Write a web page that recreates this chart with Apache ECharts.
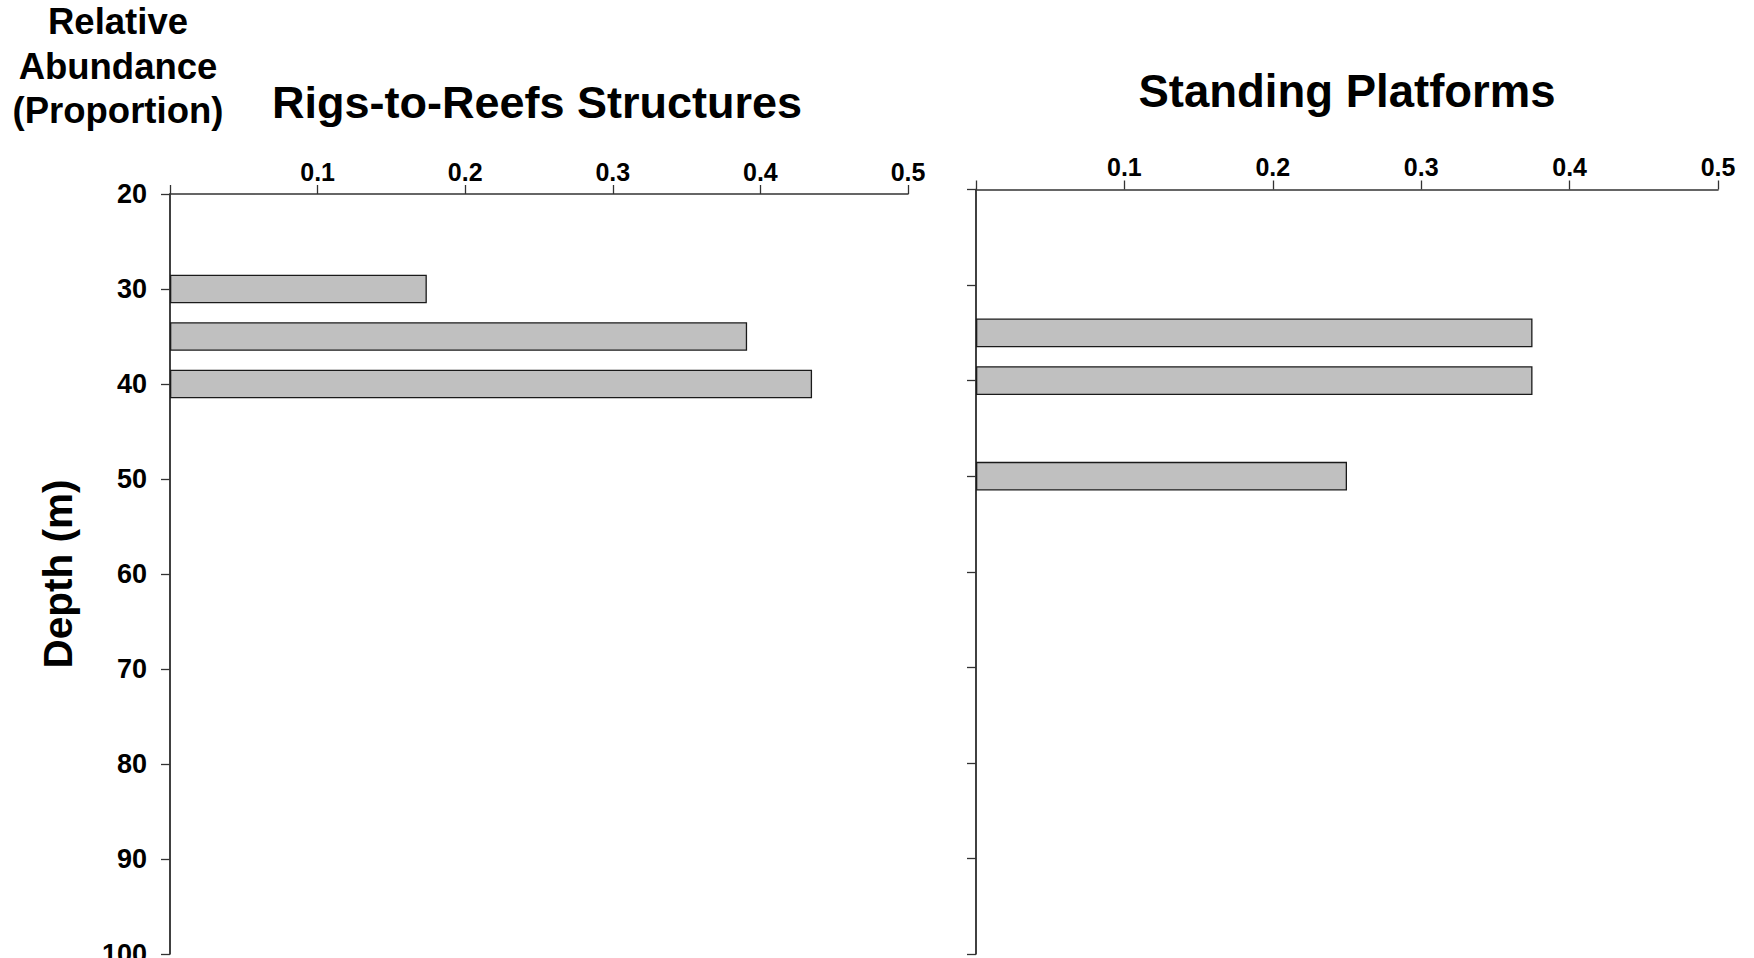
<!DOCTYPE html>
<html>
<head>
<meta charset="utf-8">
<title>Relative abundance by depth</title>
<script src="https://cdn.jsdelivr.net/npm/echarts@6/dist/echarts.min.js"></script>
<style>
  html, body { margin: 0; padding: 0; background: #ffffff; }
  #chart { width: 1754px; height: 958px; }
</style>
</head>
<body>
<div id="chart"></div>
<script>
// Depth bins (m), 5 m apart; labelled every 10 m
const depthBins = [20, 25, 30, 35, 40, 45, 50, 55, 60, 65, 70, 75, 80, 85, 90, 95, 100];

// Relative abundance (proportion) per depth bin
const rigsToReefs = [null, null, 0.174, 0.391, 0.435, null, null, null, null, null, null, null, null, null, null, null, null];
const standingPlatforms = [null, null, null, 0.375, 0.375, null, 0.25, null, null, null, null, null, null, null, null, null, null];

const panelTitles = ['Rigs-to-Reefs Structures', 'Standing Platforms'];
const abundanceTitle = 'Relative\nAbundance\n(Proportion)';
const depthTitle = 'Depth (m)';

const FONT = '"Liberation Sans", Arial, Helvetica, sans-serif';

const chart = echarts.init(document.getElementById('chart'), null, { renderer: 'svg' });

function xAxisFor(gridIndex) {
  return {
    type: 'value',
    gridIndex: gridIndex,
    position: 'top',
    min: 0,
    max: 0.5,
    interval: 0.1,
    axisLine: { show: true, lineStyle: { color: '#333333', width: 1.6 } },
    axisTick: { show: true, inside: false, length: 9, lineStyle: { color: '#333333', width: 1.3 } },
    splitLine: { show: false },
    axisLabel: {
      margin: 10,
      color: '#000000',
      fontFamily: FONT,
      fontWeight: 'bold',
      fontSize: 25,
      formatter: v => (v === 0 ? '' : v.toFixed(1))
    }
  };
}

function yAxisFor(gridIndex, showLabels) {
  return {
    type: 'category',
    gridIndex: gridIndex,
    data: depthBins,
    inverse: true,
    boundaryGap: false,
    axisLine: { show: true, lineStyle: { color: '#111111', width: 1.6 } },
    axisTick: { show: true, inside: false, length: 9, interval: 1, lineStyle: { color: '#333333', width: 1.3 } },
    splitLine: { show: false },
    axisLabel: {
      show: showLabels,
      interval: 1,
      margin: 23,
      color: '#000000',
      fontFamily: FONT,
      fontWeight: 'bold',
      fontSize: 27
    }
  };
}

const barStyle = { color: '#c0c0c0', borderColor: '#1a1a1a', borderWidth: 1.3 };

chart.setOption({
  backgroundColor: '#ffffff',
  animation: false,
  grid: [
    { left: 170, top: 194, width: 738, height: 760, outerBoundsMode: 'none', containLabel: false },
    { left: 976, top: 189.5, width: 742, height: 764.5, outerBoundsMode: 'none', containLabel: false }
  ],
  xAxis: [xAxisFor(0), xAxisFor(1)],
  yAxis: [yAxisFor(0, true), yAxisFor(1, false)],
  series: [
    {
      name: panelTitles[0],
      type: 'bar',
      xAxisIndex: 0,
      yAxisIndex: 0,
      data: rigsToReefs,
      barWidth: '60%',
      itemStyle: barStyle
    },
    {
      name: panelTitles[1],
      type: 'bar',
      xAxisIndex: 1,
      yAxisIndex: 1,
      data: standingPlatforms,
      barWidth: '60%',
      itemStyle: barStyle
    }
  ],
  graphic: [
    {
      type: 'text',
      x: 118,
      y: 66,
      style: {
        text: abundanceTitle,
        fill: '#000000',
        font: 'bold 36.5px ' + FONT,
        lineHeight: 44.5,
        align: 'center',
        verticalAlign: 'middle'
      }
    },
    {
      type: 'text',
      x: 537,
      y: 102,
      style: {
        text: panelTitles[0],
        fill: '#000000',
        font: 'bold 45px ' + FONT,
        align: 'center',
        verticalAlign: 'middle'
      }
    },
    {
      type: 'text',
      x: 1347,
      y: 91,
      style: {
        text: panelTitles[1],
        fill: '#000000',
        font: 'bold 45.5px ' + FONT,
        align: 'center',
        verticalAlign: 'middle'
      }
    },
    {
      type: 'text',
      x: 58,
      y: 574,
      rotation: Math.PI / 2,
      style: {
        text: depthTitle,
        fill: '#000000',
        font: 'bold 40.5px ' + FONT,
        align: 'center',
        verticalAlign: 'middle'
      }
    }
  ]
});
</script>
</body>
</html>
